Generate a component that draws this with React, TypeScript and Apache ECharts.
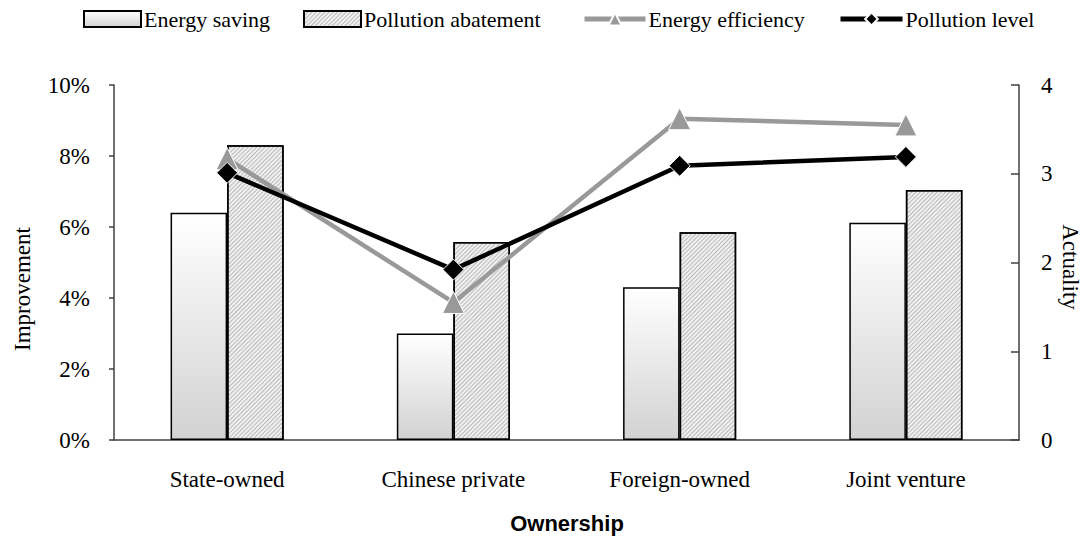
import React, { useEffect, useRef } from "react";
import * as echarts from "echarts";

const categories = ["State-owned", "Chinese private", "Foreign-owned", "Joint venture"];
const energySaving = [6.4, 3.0, 4.3, 6.12];
const pollutionAbatement = [8.3, 5.58, 5.85, 7.04];
const energyEfficiency = [3.17, 1.55, 3.62, 3.55];
const pollutionLevel = [3.01, 1.92, 3.09, 3.19];
const leftTicks = { min: 0, max: 10, interval: 2 };
const rightTicks = { min: 0, max: 4, interval: 1 };

const SERIF = "'Liberation Serif', 'Times New Roman', serif";
const SANS = "'Liberation Sans', Arial, sans-serif";
const AXIS_COLOR = "#404040";
const FS = 23;

export default function App() {
  const ref = useRef<HTMLDivElement>(null);
  useEffect(() => {
    document.body.style.margin = "0";
    if (!ref.current) return;
    const chart = echarts.init(ref.current, undefined, { renderer: "svg" });
    const legendText = { fontFamily: SERIF, fontSize: 22, color: "#000" };
    const mkLegend = (name: string, left: number, w: number, icon?: string) => ({
      data: [icon ? { name, icon } : name],
      left,
      top: 8,
      padding: 0,
      itemWidth: w,
      itemHeight: 16,
      itemGap: 0,
      textStyle: { ...legendText, padding: [0, 0, 0, -2] },
      lineStyle: { width: 5 },
      selectedMode: false,
    });
    chart.setOption({
      animation: false,
      backgroundColor: "#fff",
      legend: [
        mkLegend("Energy saving", 83, 57, "rect"),
        mkLegend("Pollution abatement", 303, 57, "rect"),
        mkLegend("Energy efficiency", 582, 61),
        mkLegend("Pollution level", 838, 62),
      ],
      grid: { left: 114, right: 70, top: 85, bottom: 98 },
      xAxis: {
        type: "category",
        data: categories,
        axisLine: { lineStyle: { color: AXIS_COLOR, width: 1.5 } },
        axisTick: { inside: true, length: 8, lineStyle: { color: "#777", width: 1.5 } },
        axisLabel: { fontFamily: SERIF, fontSize: FS, color: "#000", margin: 28 },
      },
      yAxis: [
        {
          type: "value",
          ...leftTicks,
          axisLine: { show: true, lineStyle: { color: AXIS_COLOR, width: 1.5 } },
          axisTick: { show: true, length: 5, lineStyle: { color: AXIS_COLOR, width: 1.5 } },
          splitLine: { show: false },
          axisLabel: {
            fontFamily: SERIF,
            fontSize: FS,
            color: "#000",
            margin: 24,
            formatter: "{value}%",
          },
        },
        {
          type: "value",
          position: "right",
          ...rightTicks,
          axisLine: { show: true, lineStyle: { color: AXIS_COLOR, width: 1.5 } },
          axisTick: { show: true, inside: true, length: 8, lineStyle: { color: AXIS_COLOR, width: 1.5 } },
          splitLine: { show: false },
          axisLabel: { fontFamily: SERIF, fontSize: FS, color: "#000", margin: 22 },
        },
      ],
      graphic: [
        {
          type: "text",
          x: 22,
          y: 289,
          rotation: Math.PI / 2,
          style: {
            text: "Improvement",
            fontFamily: SERIF,
            fontSize: FS,
            fill: "#000",
            textAlign: "center",
            textVerticalAlign: "middle",
          },
        },
        {
          type: "text",
          x: 1070,
          y: 267,
          rotation: -Math.PI / 2,
          style: {
            text: "Actuality",
            fontFamily: SERIF,
            fontSize: FS,
            fill: "#000",
            textAlign: "center",
            textVerticalAlign: "middle",
          },
        },
        {
          type: "text",
          x: 567,
          y: 523,
          style: {
            text: "Ownership",
            fontFamily: SANS,
            fontWeight: "bold",
            fontSize: 22,
            fill: "#000",
            textAlign: "center",
            textVerticalAlign: "middle",
          },
        },
      ],
      series: [
        {
          name: "Energy saving",
          type: "bar",
          data: energySaving,
          barGap: "0%",
          barCategoryGap: "50%",
          itemStyle: {
            color: new echarts.graphic.LinearGradient(0, 0, 0, 1, [
              { offset: 0, color: "#ffffff" },
              { offset: 1, color: "#d2d2d2" },
            ]),
            borderColor: "#000",
            borderWidth: 1.5,
          },
        },
        {
          name: "Pollution abatement",
          type: "bar",
          data: pollutionAbatement,
          barGap: "0%",
          barCategoryGap: "50%",
          itemStyle: {
            color: "#f0f0f0",
            borderColor: "#000",
            borderWidth: 1.5,
            decal: {
              symbol: "rect",
              symbolSize: 1,
              color: "rgba(150,150,150,0.6)",
              dashArrayX: [1, 0],
              dashArrayY: [1, 1.5],
              rotation: -Math.PI / 4,
            },
          },
        },
        {
          name: "Energy efficiency",
          type: "line",
          yAxisIndex: 1,
          data: energyEfficiency,
          symbol: "triangle",
          symbolSize: 22,
          lineStyle: { color: "#999999", width: 4.5 },
          itemStyle: { color: "#999999", borderColor: "#fff", borderWidth: 1 },
          z: 3,
        },
        {
          name: "Pollution level",
          type: "line",
          yAxisIndex: 1,
          data: pollutionLevel,
          symbol: "diamond",
          symbolSize: 21,
          lineStyle: { color: "#000", width: 4.5 },
          itemStyle: { color: "#000", borderColor: "#fff", borderWidth: 1 },
          z: 4,
        },
      ],
    });
    return () => chart.dispose();
  }, []);
  return <div ref={ref} style={{ width: 1089, height: 538 }} />;
}
